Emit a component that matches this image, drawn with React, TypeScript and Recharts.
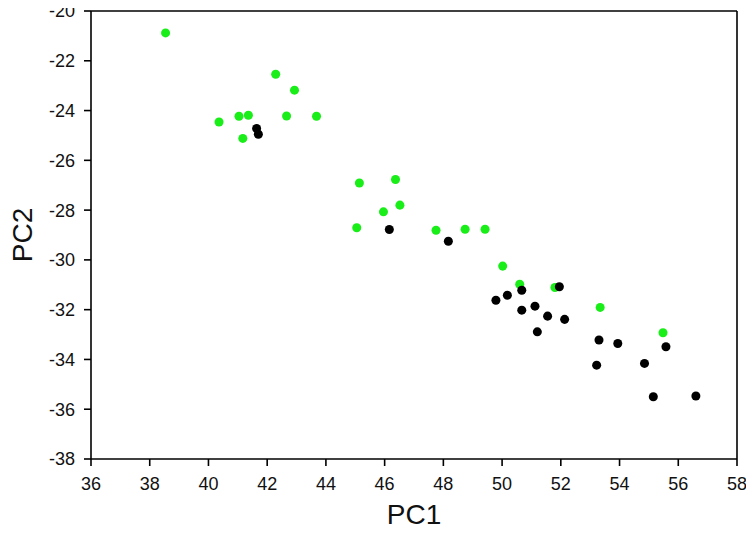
import React from 'react';
import { ScatterChart, Scatter, XAxis, YAxis, ZAxis, ReferenceLine, Label } from 'recharts';

const greenPC1 = [38.54, 40.36, 41.04, 41.36, 41.17, 42.29, 42.93, 42.66, 43.68, 45.14, 46.37, 46.52, 45.96, 45.05, 47.75, 48.74, 49.42, 50.02, 50.6, 51.8, 53.34, 55.48];
const greenPC2 = [-20.88, -24.46, -24.23, -24.19, -25.12, -22.54, -23.18, -24.22, -24.23, -26.91, -26.77, -27.8, -28.07, -28.71, -28.81, -28.77, -28.77, -30.25, -30.98, -31.11, -31.91, -32.93];

const blackPC1 = [41.64, 41.7, 46.16, 48.17, 49.79, 50.18, 50.67, 50.67, 51.12, 51.55, 51.2, 52.13, 51.95, 53.3, 53.94, 55.58, 53.22, 54.85, 55.15, 56.6];
const blackPC2 = [-24.72, -24.95, -28.78, -29.25, -31.62, -31.42, -31.22, -32.02, -31.86, -32.26, -32.89, -32.39, -31.08, -33.22, -33.36, -33.49, -34.23, -34.16, -35.5, -35.47];

const xTicks = [36, 38, 40, 42, 44, 46, 48, 50, 52, 54, 56, 58];
const yTicks = [-38, -36, -34, -32, -30, -28, -26, -24, -22, -20];

const greenData = greenPC1.map((x, i) => ({ x, y: greenPC2[i] }));
const blackData = blackPC1.map((x, i) => ({ x, y: blackPC2[i] }));

const FONT = '"Liberation Sans", Arial, sans-serif';
const tickStyle = { fontSize: 18, fill: '#111', fontFamily: FONT };

export default function App() {
  return (
    <div style={{ width: 754, height: 544, margin: '-8px 0 0 -8px', background: '#fff' }}>
      <ScatterChart
        width={754}
        height={544}
        margin={{ top: 11, right: 17, bottom: 0, left: 0 }}
        style={{ fontFamily: FONT, background: '#fff' }}
      >
        <XAxis
          type="number"
          dataKey="x"
          domain={[36, 58]}
          ticks={xTicks}
          interval={0}
          height={85}
          tickSize={7}
          tickMargin={11}
          tick={tickStyle}
          axisLine={{ stroke: '#000', strokeWidth: 1.6 }}
          tickLine={{ stroke: '#000', strokeWidth: 1.6 }}
          allowDataOverflow
        >
          <Label
            content={({ viewBox }: any) => (
              <text
                x={viewBox.x + viewBox.width / 2}
                y={viewBox.y + 65}
                textAnchor="middle"
                fontSize={28}
                fontFamily={FONT}
                fill="#111"
              >
                PC1
              </text>
            )}
          />
        </XAxis>
        <YAxis
          type="number"
          dataKey="y"
          domain={[-38, -20]}
          ticks={yTicks}
          interval={0}
          width={91}
          tickSize={7}
          tickMargin={9}
          tick={tickStyle}
          axisLine={{ stroke: '#000', strokeWidth: 1.6 }}
          tickLine={{ stroke: '#000', strokeWidth: 1.6 }}
          allowDataOverflow
        >
          <Label
            content={({ viewBox }: any) => {
              const cx = viewBox.x + 22;
              const cy = viewBox.y + viewBox.height / 2;
              return (
                <text
                  x={cx}
                  y={cy}
                  textAnchor="middle"
                  dominantBaseline="central"
                  transform={`rotate(-90, ${cx}, ${cy})`}
                  fontSize={28}
                  fontFamily={FONT}
                  fill="#111"
                >
                  PC2
                </text>
              );
            }}
          />
        </YAxis>
        <ZAxis range={[130, 130]} />
        <ReferenceLine y={-20} stroke="#000" strokeWidth={1.6} ifOverflow="visible" />
        <ReferenceLine x={58} stroke="#000" strokeWidth={1.6} ifOverflow="visible" />
        <Scatter data={greenData} fill="#19ee19" isAnimationActive={false} />
        <Scatter data={blackData} fill="#000" isAnimationActive={false} />
      </ScatterChart>
    </div>
  );
}
